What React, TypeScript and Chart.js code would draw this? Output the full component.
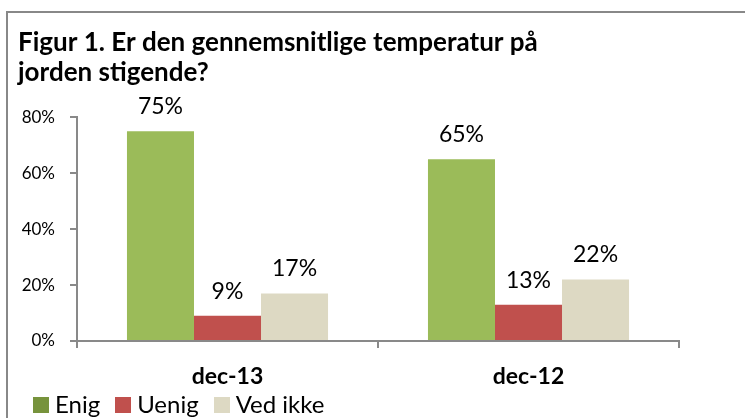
import React, { useEffect, useRef } from "react";
import { Chart, registerables } from "chart.js";

Chart.register(...registerables);

const categories = ["dec-13", "dec-12"];
const seriesNames = ["Enig", "Uenig", "Ved ikke"];
const enig = [75, 65];
const uenig = [9, 13];
const vedIkke = [17, 22];
const barColors = ["#9BBB59", "#C0504D", "#DDD9C3"];
const legendColors = ["#77933C", "#C0504D", "#DDD9C3"];
const yTickMax = 80;
const yTickStep = 20;
const titleLines = ["Figur 1. Er den gennemsnitlige temperatur på", "jorden stigende?"];

const FONT = "Lato";

const framePlugin = {
  id: "frame",
  beforeDraw(chart: any) {
    const ctx = chart.ctx;
    ctx.save();
    ctx.fillStyle = "#ffffff";
    ctx.fillRect(0, 0, chart.width, chart.height);
    ctx.strokeStyle = "#888888";
    ctx.lineWidth = 2;
    ctx.beginPath();
    ctx.moveTo(7, chart.height + 10);
    ctx.lineTo(7, 12);
    ctx.lineTo(chart.width + 10, 12);
    ctx.stroke();
    ctx.restore();
  },
};

// let the category labels overflow the x-axis box (Chart.js clips labels to it)
const unclipPlugin = {
  id: "unclipX",
  afterLayout(chart: any) {
    const s = chart.scales.x;
    s.bottom = s.top + 70;
  },
};

const labelPlugin = {
  id: "valueLabels",
  afterDatasetsDraw(chart: any) {
    const ctx = chart.ctx;
    ctx.save();
    ctx.font = `23px ${FONT}`;
    ctx.fillStyle = "#000000";
    ctx.textAlign = "center";
    ctx.textBaseline = "alphabetic";
    chart.data.datasets.forEach((ds: any, i: number) => {
      const meta = chart.getDatasetMeta(i);
      meta.data.forEach((el: any, j: number) => {
        ctx.fillText(`${ds.data[j]}%`, el.x, el.y - 17);
      });
    });
    ctx.restore();
  },
};

function makeSwatch(color: string) {
  const c = document.createElement("canvas");
  c.width = 16;
  c.height = 16;
  const g = c.getContext("2d")!;
  g.fillStyle = color;
  g.fillRect(0, 0, 16, 16);
  return c;
}

export default function App() {
  const ref = useRef<HTMLCanvasElement | null>(null);

  useEffect(() => {
    if (!ref.current) return;
    const series = [enig, uenig, vedIkke];
    const swatches = legendColors.map(makeSwatch);
    const chart = new Chart(ref.current, {
      type: "bar",
      data: {
        labels: categories,
        datasets: series.map((d, i) => ({
          label: seriesNames[i],
          data: d,
          backgroundColor: barColors[i],
          borderWidth: 0,
          barPercentage: 1,
          categoryPercentage: 0.668,
        })),
      },
      options: {
        animation: false,
        responsive: false,
        devicePixelRatio: 1,
        layout: { padding: { left: 18, right: 66, top: 0, bottom: 0 } },
        plugins: {
          title: {
            display: true,
            text: titleLines,
            align: "start",
            color: "#000000",
            font: { family: FONT, size: 26, weight: "bold", lineHeight: 1.12 },
            padding: { top: 28.5, bottom: 30.5 },
          },
          legend: {
            display: true,
            position: "bottom",
            align: "start",
            labels: {
              color: "#000000",
              font: { family: FONT, size: 24 },
              usePointStyle: true,
              pointStyleWidth: 4,
              boxWidth: 4,
              boxHeight: 16,
              padding: 21,
              generateLabels: (c: any) =>
                c.data.datasets.map((ds: any, i: number) => ({
                  text: ds.label,
                  fillStyle: legendColors[i],
                  strokeStyle: legendColors[i],
                  pointStyle: swatches[i],
                  lineWidth: 0,
                  hidden: false,
                  datasetIndex: i,
                })),
            },
          },
          tooltip: { enabled: false },
        },
        scales: {
          x: {
            grid: {
              display: true,
              drawOnChartArea: false,
              drawTicks: true,
              tickLength: 7,
              color: "#898989",
              lineWidth: 2,
              offset: true,
            },
            border: { display: true, color: "#898989", width: 2 },
            ticks: {
              color: "#000000",
              font: { family: FONT, size: 23, weight: "bold" },
              padding: 15,
            },
            afterFit: (s: any) => {
              s.height = 31;
            },
          },
          y: {
            min: 0,
            max: yTickMax,
            grid: {
              display: true,
              drawOnChartArea: false,
              drawTicks: true,
              tickLength: 7,
              color: "#898989",
              lineWidth: 2,
            },
            border: { display: true, color: "#898989", width: 2 },
            ticks: {
              stepSize: yTickStep,
              color: "#000000",
              font: { family: FONT, size: 17 },
              padding: 15,
              callback: (v: any) => `${v}%`,
            },
            afterFit: (s: any) => {
              s.width = 59;
            },
          },
        },
      },
      plugins: [framePlugin, unclipPlugin, labelPlugin],
    });
    return () => chart.destroy();
  }, []);

  return (
    <div
      style={{
        position: "fixed",
        left: 0,
        top: 0,
        width: 745,
        height: 418,
        overflow: "hidden",
        background: "#ffffff",
      }}
    >
      <canvas ref={ref} width={745} height={427} style={{ display: "block" }} />
    </div>
  );
}
